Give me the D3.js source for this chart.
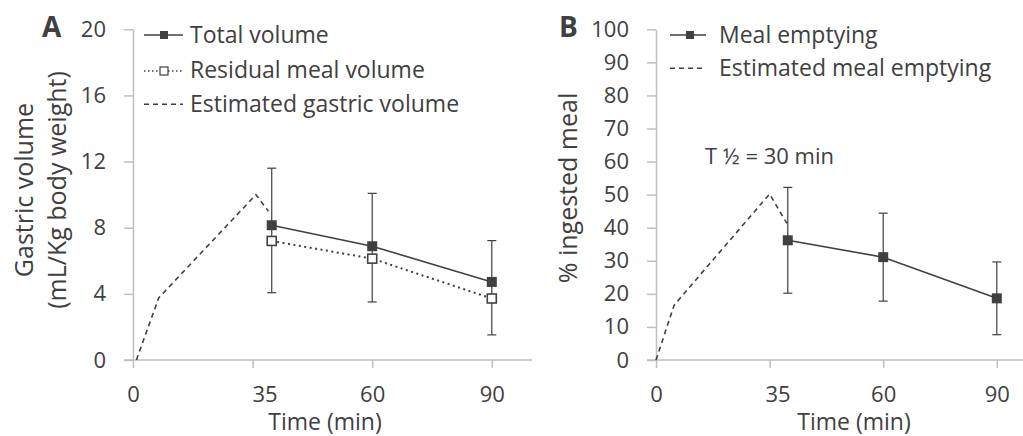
<!DOCTYPE html>
<html><head><meta charset="utf-8">
<script src="https://cdn.jsdelivr.net/npm/d3@7"></script>
<style>
body{margin:0;background:#fff}
text{font-family:"Open Sans",sans-serif;fill:#404040}
</style>
</head><body>
<svg id="chart" width="1023" height="436"></svg>
<script>
// ---- data ----
const timeTicks = [0, 35, 60, 90];
const volumeTicks = [0, 4, 8, 12, 16, 20];
const percentTicks = [0, 10, 20, 30, 40, 50, 60, 70, 80, 90, 100];
const measuredTimes = [39, 60, 90];
const totalVolume = [8.15, 6.88, 4.72];
const totalVolumeSD = [3.45, 3.2, 2.5];
const residualVolume = [7.2, 6.13, 3.72];
const residualVolumeSD = [3.13, 2.62, 2.2];
const estGastricTimes = [1, 7.5, 35.7, 38.3];
const estGastricVolume = [0, 3.75, 10, 9.0];
const mealEmptying = [36.2, 31.1, 18.65];
const mealEmptyingSD = [16, 13.3, 11];
const estMealTimes = [0, 5.6, 35, 38.8];
const estMealEmptying = [0, 16.6, 50.2, 41.3];
const legendA = ["Total volume", "Residual meal volume", "Estimated gastric volume"];
const legendB = ["Meal emptying", "Estimated meal emptying"];
const halfTimeText = "T \u00BD = 30 min";

const svg = d3.select("#chart");
const ink = "#404040", axisGray = "#bfbfbf";

function panel(cfg) {
  const g = svg.append("g");
  const x = d3.scaleLinear().domain(timeTicks)
    .range(timeTicks.map((d, i) => cfg.left + i * cfg.step));
  const y = d3.scaleLinear().domain([0, cfg.yMax]).range([cfg.bottom, cfg.top]);

  g.append("line").attr("x1", cfg.left - 9).attr("x2", cfg.axisEnd)
    .attr("y1", cfg.bottom).attr("y2", cfg.bottom)
    .attr("stroke", axisGray).attr("stroke-width", 1.5);

  const ya = g.append("g").attr("transform", `translate(${cfg.left},0)`)
    .call(d3.axisLeft(y).tickValues(cfg.yTicks).tickSize(9).tickSizeOuter(0).tickPadding(18));
  ya.select(".domain").attr("stroke", axisGray).attr("stroke-width", 1.5);
  ya.selectAll(".tick line").attr("stroke", axisGray).attr("stroke-width", 1.5);
  ya.selectAll("text").style("font-size", "22px").attr("fill", ink);

  const xa = g.append("g").attr("transform", `translate(0,${cfg.bottom})`)
    .call(d3.axisBottom(x).tickValues(timeTicks).tickSize(8).tickSizeOuter(0).tickPadding(18));
  xa.select(".domain").remove();
  xa.selectAll(".tick line").attr("stroke", axisGray).attr("stroke-width", 1.5);
  xa.selectAll("text").style("font-size", "22px").attr("fill", ink)
    .attr("dx", d => d === 35 ? cfg.dx35 : 0);

  g.append("text").attr("x", cfg.titleX).attr("y", 430).attr("text-anchor", "middle")
    .style("font-size", "23px").text("Time (min)");

  g.append("text").attr("x", cfg.letterX).attr("y", 37).style("font-size", "28px")
    .style("font-weight", "bold").text(cfg.letter);

  return {g, x, y};
}

// ---------- Panel A ----------
const A = panel({left: 133, step: 119.6, top: 29.3, bottom: 360, yMax: 20, yTicks: volumeTicks,
  axisEnd: 532, titleX: 325, dx35: 12, letter: "A", letterX: 42});

A.g.append("text").attr("transform", "translate(33,190) rotate(-90)").attr("text-anchor", "middle")
  .style("font-size", "25px").text("Gastric volume");
A.g.append("text").attr("transform", "translate(66,190) rotate(-90)").attr("text-anchor", "middle")
  .style("font-size", "25px").text("(mL/Kg body weight)");

const lineA = d3.line().x(d => A.x(d[0])).y(d => A.y(d[1]));
A.g.append("path").attr("d", lineA(d3.zip(estGastricTimes, estGastricVolume)))
  .attr("fill", "none").attr("stroke", ink).attr("stroke-width", 1.6).attr("stroke-dasharray", "5,4");

function errBar(g, xs, y0, y1) {
  g.append("line").attr("x1", xs).attr("x2", xs).attr("y1", y0).attr("y2", y1)
    .attr("stroke", ink).attr("stroke-width", 1.2);
  [y0, y1].forEach(yy => g.append("line").attr("x1", xs - 4.5).attr("x2", xs + 4.5)
    .attr("y1", yy).attr("y2", yy).attr("stroke", ink).attr("stroke-width", 1.2));
}
measuredTimes.forEach((t, i) => {
  errBar(A.g, A.x(t), A.y(totalVolume[i] + totalVolumeSD[i]), A.y(residualVolume[i] - residualVolumeSD[i]));
});

A.g.append("path").attr("d", lineA(d3.zip(measuredTimes, residualVolume)))
  .attr("fill", "none").attr("stroke", ink).attr("stroke-width", 2).attr("stroke-dasharray", "2,3.5");
A.g.append("path").attr("d", lineA(d3.zip(measuredTimes, totalVolume)))
  .attr("fill", "none").attr("stroke", ink).attr("stroke-width", 1.6);

measuredTimes.forEach((t, i) => {
  A.g.append("rect").attr("x", A.x(t) - 4.5).attr("y", A.y(residualVolume[i]) - 4.5)
    .attr("width", 9).attr("height", 9).attr("fill", "#fff").attr("stroke", ink).attr("stroke-width", 1.6);
  A.g.append("rect").attr("x", A.x(t) - 5).attr("y", A.y(totalVolume[i]) - 5)
    .attr("width", 10).attr("height", 10).attr("fill", ink);
});

const legAY = [35, 71, 104.3], legAText = [43.3, 78.3, 112.3];
legendA.forEach((name, i) => {
  const ln = A.g.append("line").attr("x1", 144).attr("x2", 183).attr("y1", legAY[i]).attr("y2", legAY[i])
    .attr("stroke", ink);
  if (i === 0) ln.attr("stroke-width", 1.6);
  if (i === 1) ln.attr("stroke-width", 1.6).attr("stroke-dasharray", "1.5,2.5");
  if (i === 2) ln.attr("stroke-width", 1.5).attr("stroke-dasharray", "5,4");
  if (i === 0) A.g.append("rect").attr("x", 160).attr("y", legAY[i] - 4).attr("width", 8).attr("height", 8).attr("fill", ink);
  if (i === 1) A.g.append("rect").attr("x", 160).attr("y", legAY[i] - 4).attr("width", 8).attr("height", 8)
    .attr("fill", "#fff").attr("stroke", ink).attr("stroke-width", 1.2);
  A.g.append("text").attr("x", 190).attr("y", legAText[i]).style("font-size", "23px").text(name);
});

// ---------- Panel B ----------
const B = panel({left: 656, step: 113.6, top: 29.3, bottom: 360, yMax: 100, yTicks: percentTicks,
  axisEnd: 1023, titleX: 854, dx35: 8, letter: "B", letterX: 559});

B.g.append("text").attr("transform", "translate(577,188) rotate(-90)").attr("text-anchor", "middle")
  .style("font-size", "25px").text("% ingested meal");

const lineB = d3.line().x(d => B.x(d[0])).y(d => B.y(d[1]));
B.g.append("path").attr("d", lineB(d3.zip(estMealTimes, estMealEmptying)))
  .attr("fill", "none").attr("stroke", ink).attr("stroke-width", 1.6).attr("stroke-dasharray", "5,4");
measuredTimes.forEach((t, i) => {
  errBar(B.g, B.x(t), B.y(mealEmptying[i] + mealEmptyingSD[i]), B.y(mealEmptying[i] - mealEmptyingSD[i]));
});
B.g.append("path").attr("d", lineB(d3.zip(measuredTimes, mealEmptying)))
  .attr("fill", "none").attr("stroke", ink).attr("stroke-width", 1.6);
measuredTimes.forEach((t, i) => {
  B.g.append("rect").attr("x", B.x(t) - 5).attr("y", B.y(mealEmptying[i]) - 5)
    .attr("width", 10).attr("height", 10).attr("fill", ink);
});

const legBY = [35, 68.3], legBText = [43.3, 76];
legendB.forEach((name, i) => {
  const ln = B.g.append("line").attr("x1", 670).attr("x2", 706).attr("y1", legBY[i]).attr("y2", legBY[i])
    .attr("stroke", ink).attr("stroke-width", i === 0 ? 1.6 : 1.5);
  if (i === 1) ln.attr("stroke-dasharray", "5,4");
  if (i === 0) B.g.append("rect").attr("x", 686).attr("y", legBY[i] - 4).attr("width", 8).attr("height", 8).attr("fill", ink);
  B.g.append("text").attr("x", 719).attr("y", legBText[i]).style("font-size", "23px").text(name);
});

B.g.append("text").attr("x", 705).attr("y", 164).style("font-size", "22px").text(halfTimeText);
</script>
</body></html>
